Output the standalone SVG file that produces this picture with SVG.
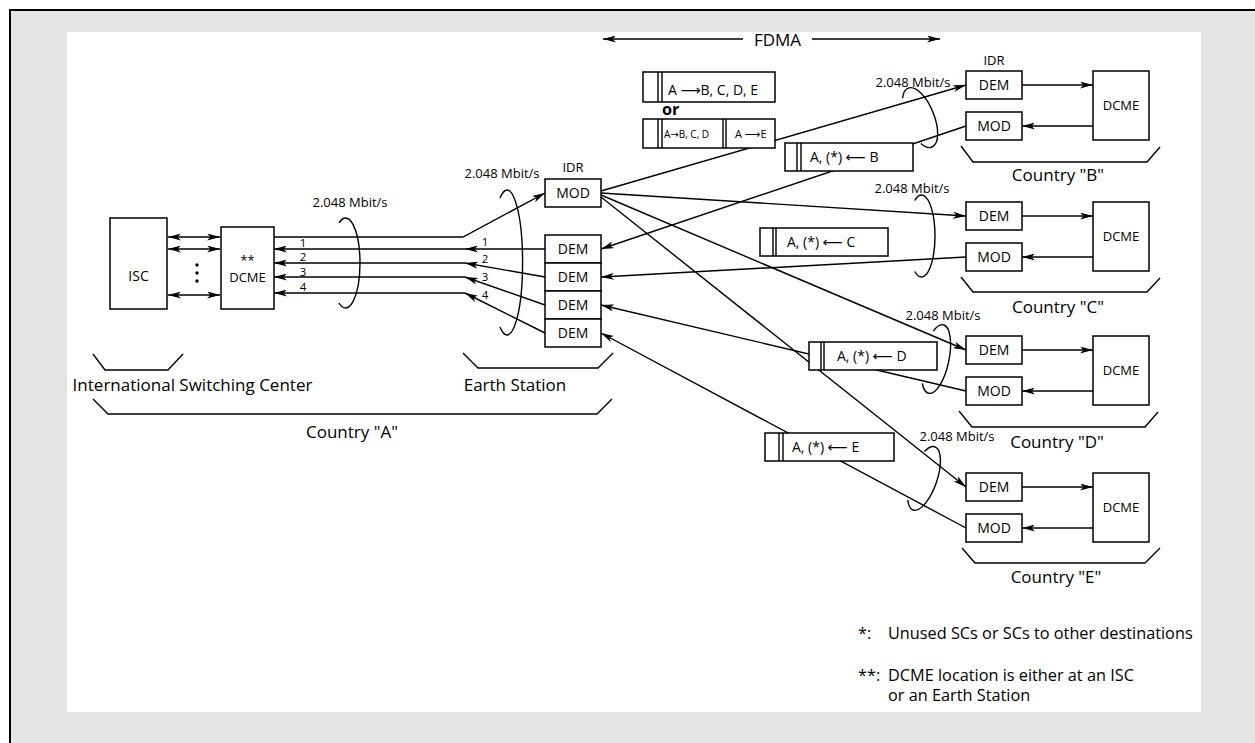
<svg xmlns="http://www.w3.org/2000/svg" width="1255" height="743" viewBox="0 0 1255 743">
<defs>
<marker id="ah" viewBox="0 0 13 7" refX="13" refY="3.5" markerWidth="13" markerHeight="7" markerUnits="userSpaceOnUse" orient="auto-start-reverse"><path d="M0,0 L13,3.5 L0,7 L3.5,3.5 z" fill="#000"/></marker>
<style>
.box{fill:#fff;stroke:#000;stroke-width:1.5}
.ln{fill:none;stroke:#000;stroke-width:1.4}
.ar{marker-end:url(#ah)}
.da{marker-start:url(#ah);marker-end:url(#ah)}
.t{font-family:"Open Sans","DejaVu Sans",sans-serif;fill:#000}
.m{text-anchor:middle}
.s10{font-size:10px}
.s11{font-size:11px}
.s12{font-size:11.5px}
.s13{font-size:13px}
.s14{font-size:14px}
.s16{font-size:16.3px}
.s17{font-size:17px}
</style>
</defs>
<rect x="0" y="0" width="1255" height="743" fill="#fff"/>
<rect x="10" y="10" width="1245" height="733" fill="#e4e4e4"/>
<path d="M10,743 V10 H1255" fill="none" stroke="#000" stroke-width="2"/>
<rect x="67" y="32" width="1134" height="680" fill="#fff"/>

<g id="connectors">
<line class="ln ar" x1="743" y1="39" x2="603" y2="39"/>
<line class="ln ar" x1="812" y1="39" x2="940" y2="39"/>
<line class="ln da" x1="168" y1="237" x2="220" y2="237"/>
<line class="ln da" x1="168" y1="249" x2="220" y2="249"/>
<line class="ln da" x1="168" y1="295" x2="220" y2="295"/>
<path class="ln ar" d="M274,237 H463 L545,193"/>
<line class="ln ar" x1="545" y1="249" x2="465" y2="249"/>
<line class="ln ar" x1="465" y1="249" x2="274" y2="249"/>
<line class="ln ar" x1="545" y1="277" x2="465" y2="263"/>
<line class="ln ar" x1="465" y1="263" x2="274" y2="263"/>
<line class="ln ar" x1="545" y1="305" x2="465" y2="277"/>
<line class="ln ar" x1="465" y1="277" x2="274" y2="277"/>
<line class="ln ar" x1="545" y1="333" x2="465" y2="293"/>
<line class="ln ar" x1="465" y1="293" x2="274" y2="293"/>
<line class="ln ar" x1="601" y1="191" x2="966" y2="85"/>
<line class="ln ar" x1="966" y1="126" x2="601" y2="249"/>
<line class="ln ar" x1="601" y1="193" x2="966" y2="216"/>
<line class="ln ar" x1="966" y1="257" x2="601" y2="277"/>
<line class="ln ar" x1="601" y1="195" x2="966" y2="350"/>
<line class="ln ar" x1="966" y1="391" x2="601" y2="305"/>
<line class="ln ar" x1="601" y1="197" x2="966" y2="487"/>
<line class="ln ar" x1="966" y1="528" x2="601" y2="333"/>
<line class="ln ar" x1="1022" y1="85" x2="1093" y2="85"/>
<line class="ln ar" x1="1093" y1="126" x2="1022" y2="126"/>
<line class="ln ar" x1="1022" y1="216" x2="1093" y2="216"/>
<line class="ln ar" x1="1093" y1="257" x2="1022" y2="257"/>
<line class="ln ar" x1="1022" y1="350" x2="1093" y2="350"/>
<line class="ln ar" x1="1093" y1="391" x2="1022" y2="391"/>
<line class="ln ar" x1="1022" y1="487" x2="1093" y2="487"/>
<line class="ln ar" x1="1093" y1="528" x2="1022" y2="528"/>
</g>

<g id="labels">
<text class="t s17 m" x="777.5" y="46">FDMA</text>
<g class="t s12 m">
<text x="303" y="247">1</text><text x="303" y="261">2</text><text x="303" y="276">3</text><text x="303" y="291">4</text>
<text x="485" y="246">1</text><text x="485" y="263">2</text><text x="485" y="281">3</text><text x="485" y="299">4</text>
</g>
</g>

<g id="bundles">
<path class="ln" d="M339,223 A14.4,45 0 1 1 339,303"/>
<path class="ln" d="M500,198 A15.5,72.5 0 1 1 500,327"/>
<path class="ln" d="M902.6,98.3 A14,31.8 -22 1 1 920.8,143.5"/>
<path class="ln" d="M914.75,200.5 A13.5,41 0 1 1 914.75,271.5"/>
<path class="ln" d="M933.4,331 A13,35 12 1 1 922.2,383.5"/>
<path class="ln" d="M924.4,451.6 A13,33.4 19 1 1 907.8,500"/>
<g class="t s13 m">
<text x="350" y="207">2.048 Mbit/s</text>
<text x="502" y="178">2.048 Mbit/s</text>
<text x="913" y="87">2.048 Mbit/s</text>
<text x="912" y="193">2.048 Mbit/s</text>
<text x="943" y="320">2.048 Mbit/s</text>
<text x="957" y="441">2.048 Mbit/s</text>
</g>
</g>

<g id="isc">
<rect class="box" x="110" y="218" width="57" height="91"/>
<text class="t s14 m" x="138.5" y="281">ISC</text>
<path class="ln" d="M93,354 L105,370 H168 L183,354"/>
<text class="t s17 m" x="192.5" y="391">International Switching Center</text>
</g>
<g id="dcme-a">
<rect class="box" x="221" y="227" width="53" height="82"/>
<text class="t s13 m" x="247.5" y="265">**</text>
<text class="t s13 m" x="247.5" y="282">DCME</text>
<circle cx="197" cy="265" r="1.7"/><circle cx="197" cy="273" r="1.7"/><circle cx="197" cy="281" r="1.7"/>
</g>
<g id="earth-station">
<text class="t s13 m" x="573" y="172">IDR</text>
<rect class="box" x="545" y="179" width="56" height="28"/>
<text class="t s14 m" x="573" y="198">MOD</text>
<rect class="box" x="545" y="235" width="56" height="28"/>
<rect class="box" x="545" y="263" width="56" height="28"/>
<rect class="box" x="545" y="291" width="56" height="28"/>
<rect class="box" x="545" y="319" width="56" height="28"/>
<g class="t s14 m">
<text x="573" y="254">DEM</text><text x="573" y="282">DEM</text><text x="573" y="310">DEM</text><text x="573" y="338">DEM</text>
</g>
<path class="ln" d="M463,353 L478,368 H598 L613,353"/>
<text class="t s17 m" x="515" y="391">Earth Station</text>
</g>
<g id="country-a">
<path class="ln" d="M93,399 L108,414 H597 L612,399"/>
<text class="t s17 m" x="352" y="438">Country "A"</text>
</g>

<g id="frame-out">
<rect class="box" x="643" y="72" width="132" height="30"/>
<path class="ln" d="M658,72 V102 M662,72 V102"/>
<text class="t s14" x="668" y="95">A ⟶B, C, D, E</text>
<text class="t s16" x="662" y="115" font-weight="bold">or</text>
<rect class="box" x="643" y="119" width="132" height="29"/>
<path class="ln" d="M658,119 V148 M662,119 V148 M723,119 V148 M726,119 V148"/>
<text class="t s10" x="664" y="138">A→B, C, D</text>
<text class="t s11" x="735" y="138">A ⟶E</text>
</g>
<g id="frame-b">
<rect class="box" x="785" y="143" width="128" height="28"/>
<path class="ln" d="M797,143 V171 M801,143 V171"/>
<text class="t s14" x="810" y="162">A, (*) ⟵ B</text>
</g>
<g id="frame-c">
<rect class="box" x="760" y="228" width="128" height="28"/>
<path class="ln" d="M773,228 V256 M776,228 V256"/>
<text class="t s14" x="787" y="247">A, (*) ⟵ C</text>
</g>
<g id="frame-d">
<rect class="box" x="809" y="342" width="128" height="28"/>
<path class="ln" d="M821,342 V370 M824,342 V370"/>
<text class="t s14" x="837" y="361">A, (*) ⟵ D</text>
</g>
<g id="frame-e">
<rect class="box" x="765" y="433" width="129" height="28"/>
<path class="ln" d="M779,433 V461 M783,433 V461"/>
<text class="t s14" x="792" y="452">A, (*) ⟵ E</text>
</g>

<g id="country-b">
<text class="t s13 m" x="994" y="65">IDR</text>
<rect class="box" x="966" y="71" width="56" height="28"/>
<text class="t s14 m" x="994" y="90">DEM</text>
<rect class="box" x="966" y="112" width="56" height="28"/>
<text class="t s14 m" x="994" y="131">MOD</text>
<rect class="box" x="1093" y="71" width="56" height="69"/>
<text class="t s13 m" x="1121" y="110">DCME</text>
<path class="ln" d="M961,146 L973,162 H1147 L1160,147"/>
<text class="t s17 m" x="1058" y="181">Country "B"</text>
</g>
<g id="country-c">
<rect class="box" x="966" y="202" width="56" height="28"/>
<text class="t s14 m" x="994" y="221">DEM</text>
<rect class="box" x="966" y="243" width="56" height="28"/>
<text class="t s14 m" x="994" y="262">MOD</text>
<rect class="box" x="1093" y="202" width="56" height="69"/>
<text class="t s13 m" x="1121" y="241">DCME</text>
<path class="ln" d="M961,277 L973,292 H1147 L1160,278"/>
<text class="t s17 m" x="1058" y="313">Country "C"</text>
</g>
<g id="country-d">
<rect class="box" x="966" y="336" width="56" height="28"/>
<text class="t s14 m" x="994" y="355">DEM</text>
<rect class="box" x="966" y="377" width="56" height="28"/>
<text class="t s14 m" x="994" y="396">MOD</text>
<rect class="box" x="1093" y="336" width="56" height="69"/>
<text class="t s13 m" x="1121" y="375">DCME</text>
<path class="ln" d="M959,411 L972,427 H1145 L1158,412"/>
<text class="t s17 m" x="1057" y="448">Country "D"</text>
</g>
<g id="country-e">
<rect class="box" x="966" y="473" width="56" height="28"/>
<text class="t s14 m" x="994" y="492">DEM</text>
<rect class="box" x="966" y="514" width="56" height="28"/>
<text class="t s14 m" x="994" y="533">MOD</text>
<rect class="box" x="1093" y="473" width="56" height="69"/>
<text class="t s13 m" x="1121" y="512">DCME</text>
<path class="ln" d="M962,548 L975,563 H1145 L1160,548"/>
<text class="t s17 m" x="1056" y="583">Country "E"</text>
</g>

<g id="notes" class="t s16">
<text x="858" y="639">*:</text>
<text x="888" y="639">Unused SCs or SCs to other destinations</text>
<text x="858" y="681">**:</text>
<text x="888" y="681">DCME location is either at an ISC</text>
<text x="888" y="701">or an Earth Station</text>
</g>
</svg>
